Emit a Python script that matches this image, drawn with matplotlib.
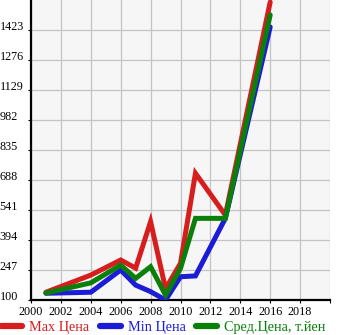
import matplotlib.pyplot as plt
from matplotlib.lines import Line2D

# --- Price history by model year ---
years = [2001, 2004, 2006, 2007, 2008, 2009, 2010, 2011, 2013, 2016]
max_price = [138, 222, 296, 256, 484, 155, 280, 721, 516, 1560]
min_price = [133, 138, 247, 173, 141, 100, 214, 218, 500, 1438]
avg_price = [134, 184, 271, 206, 263, 124, 255, 500, 500, 1497]

labels = ['Max Цена', 'Min Цена', 'Сред.Цена, т.йен']
colors = ['#d61e1e', '#1c1cd6', '#0a800a']

x_ticks = list(range(2000, 2021, 2))
y_ticks = [100, 247, 394, 541, 688, 835, 982, 1129, 1276, 1423]

plt.rcParams['font.family'] = ['Liberation Serif', 'DejaVu Serif']

fig = plt.figure(figsize=(3.45, 3.35), dpi=100)
ax = fig.add_axes([31 / 345, 35 / 335, 299 / 345, 300 / 335])
ax.set_facecolor('#f6f6f6')

for ys, c in zip([max_price, min_price, avg_price], colors):
    ax.plot(years, ys, color=c, lw=3.6, solid_joinstyle='miter',
            solid_capstyle='round', zorder=3)

ax.set_xlim(2000, 2020)
ax.set_ylim(100, 1570)
ax.set_xticks(x_ticks)
ax.set_xticklabels([str(t) if t < 2020 else '' for t in x_ticks])
ax.set_yticks(y_ticks)
ax.set_yticklabels([str(t) for t in y_ticks])

ax.grid(True, color='#c4c4c4', lw=0.9)
ax.set_axisbelow(True)
for side in ['top', 'right']:
    ax.spines[side].set_visible(False)
for side in ['left', 'bottom']:
    ax.spines[side].set_linewidth(1.6)
    ax.spines[side].set_color('black')

ax.tick_params(axis='both', length=2.5, width=0.8, labelsize=8.7, colors='black')
ax.tick_params(axis='x', pad=2)
ax.tick_params(axis='y', pad=20)
for lbl in ax.get_yticklabels():
    lbl.set_horizontalalignment('left')
    lbl.set_verticalalignment('baseline')

handles = [Line2D([0], [0], color=c, lw=4.5, solid_capstyle='round') for c in colors]
leg = fig.legend(handles, labels, loc='lower left', bbox_to_anchor=(-0.005, -0.005),
                 ncol=3, frameon=False, fontsize=10.3, handlelength=1.45,
                 handletextpad=0.5, columnspacing=0.75, borderpad=0.2,
                 borderaxespad=0)
for txt, c in zip(leg.get_texts(), colors):
    txt.set_color(c)

fig.savefig('out.png', dpi=100)
